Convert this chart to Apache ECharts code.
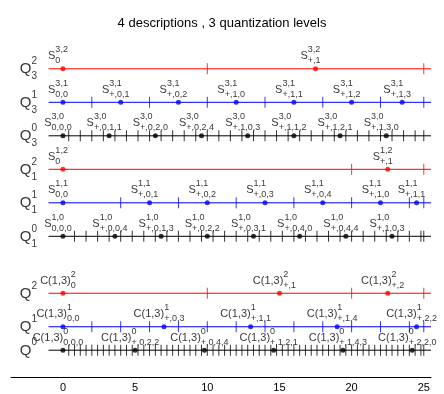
<!DOCTYPE html>
<html>
<head>
<meta charset="utf-8">
<script src="https://cdn.jsdelivr.net/npm/echarts@6/dist/echarts.min.js"></script>
<style>
  html, body { margin: 0; padding: 0; background: #fff; }
  #chart { width: 444px; height: 394px; }
</style>
</head>
<body>
<div id="chart"></div>
<script>
var titleText = '4 descriptions , 3 quantization levels'
var xTicks = [0, 5, 10, 15, 20, 25]
var lineStart = -1
var lineEnd = 25.5

// rows, top to bottom
var rowY = [9.2, 8.2, 7.2, 6.2, 5.2, 4.2, 2.5, 1.5, 0.8]
var rowQSup = ['2', '1', '0', '2', '1', '0', '2', '1', '0']
var rowQSub = ['3', '3', '3', '1', '1', '1', '', '', '']
var rowBase = ['S', 'S', 'S', 'S', 'S', 'S', 'C(1,3)', 'C(1,3)', 'C(1,3)']
var rowSup = ['3,2', '3,1', '3,0', '1,2', '1,1', '1,0', '2', '1', '0']

var q32Points = [0, 17.5]
var q32Ticks = [10, 25]
var q32Subs = ['0', '+,1']

var q31Points = [0, 4, 8, 12, 16, 20, 23.5]
var q31Ticks = [2, 6, 10, 14, 18, 22, 25]
var q31Subs = ['0,0', '+,0,1', '+,0,2', '+,1,0', '+,1,1', '+,1,2', '+,1,3']

var q30Points = [0, 3.2, 6.4, 9.6, 12.8, 16, 19.2, 22.4]
var q30Ticks = [0.4, 1.2, 2, 2.8, 3.6, 4.4, 5.2, 6, 6.8, 7.6, 8.4, 9.2, 10, 10.8, 11.6, 12.4,
  13.2, 14, 14.8, 15.6, 16.4, 17.2, 18, 18.8, 19.6, 20.4, 21.2, 22, 22.8, 23.6, 24.4, 25]
var q30Subs = ['0,0,0', '+,0,1,1', '+,0,2,0', '+,0,2,4', '+,1,0,3', '+,1,1,2', '+,1,2,1', '+,1,3,0']

var q12Points = [0, 22.5]
var q12Ticks = [20, 25]
var q12Subs = ['0', '+,1']

var q11Points = [0, 6, 10, 14, 18, 22, 24.5]
var q11Ticks = [4, 8, 12, 16, 20, 24, 25]
var q11Subs = ['0,0', '+,0,1', '+,0,2', '+,0,3', '+,0,4', '+,1,0', '+,1,1']

var q10Points = [0, 3.6, 6.8, 10, 13.2, 16.4, 19.6, 22.8]
var q10Ticks = [0.8, 1.6, 2.4, 3.2, 4, 4.8, 5.6, 6.4, 7.2, 8, 8.8, 9.6, 10.4, 11.2, 12, 12.8,
  13.6, 14.4, 15.2, 16, 16.8, 17.6, 18.4, 19.2, 20, 20.8, 21.6, 22.4, 23.2, 24, 24.8, 25]
var q10Subs = ['0,0,0', '+,0,0,4', '+,0,1,3', '+,0,2,2', '+,0,3,1', '+,0,4,0', '+,0,4,4', '+,1,0,3']

var q2Points = [0, 15, 22.5]
var q2Ticks = [10, 20, 25]
var q2Subs = ['0', '+,1', '+,2']

var q1Points = [0, 7, 13, 19, 24.5]
var q1Ticks = [2, 4, 6, 8, 10, 12, 14, 16, 18, 20, 22, 24, 25]
var q1Subs = ['0,0', '+,0,3', '+,1,1', '+,1,4', '+,2,2']

var q0Points = [0, 5, 9.8, 14.6, 19.4, 24.2]
var q0Ticks = [0.4, 0.8, 1.2, 1.6, 2, 2.4, 2.8, 3.2, 3.6, 4, 4.4, 4.8, 5.2, 5.6, 6, 6.4, 6.8,
  7.2, 7.6, 8, 8.4, 8.8, 9.2, 9.6, 10, 10.4, 10.8, 11.2, 11.6, 12, 12.4, 12.8, 13.2, 13.6,
  14, 14.4, 14.8, 15.2, 15.6, 16, 16.4, 16.8, 17.2, 17.6, 18, 18.4, 18.8, 19.2, 19.6, 20,
  20.4, 20.8, 21.2, 21.6, 22, 22.4, 22.8, 23.2, 23.6, 24, 24.4, 24.8, 25]
var q0Subs = ['0,0,0', '+,0,2,2', '+,0,4,4', '+,1,2,1', '+,1,4,3', '+,2,2,0']

var rowPoints = [q32Points, q31Points, q30Points, q12Points, q11Points, q10Points, q2Points, q1Points, q0Points]
var rowTicks = [q32Ticks, q31Ticks, q30Ticks, q12Ticks, q11Ticks, q10Ticks, q2Ticks, q1Ticks, q0Ticks]
var rowSubs = [q32Subs, q31Subs, q30Subs, q12Subs, q11Subs, q10Subs, q2Subs, q1Subs, q0Subs]

var FONT = '"Liberation Sans", Arial, Helvetica, sans-serif'
var rowColors = ['#ff0000', '#0000ff', '#000000']
var GHOST = 'rgba(0,0,0,0)'

// sup sits on a thin first line, base + sub on the second line;
// 'height' only moves the token centre (top aligned: centre = lineTop + height / 2)
var pointRich = {
  g: { fontSize: 11, fontFamily: FONT, color: GHOST, lineHeight: 1, align: 'left' },
  sup: { fontSize: 9, fontFamily: FONT, color: '#000', lineHeight: 1, align: 'left' },
  b: { fontSize: 11, fontFamily: FONT, color: '#000', lineHeight: 12, align: 'left' },
  sub: { fontSize: 9, fontFamily: FONT, color: '#000', lineHeight: 1, height: 21, verticalAlign: 'top', align: 'left' }
}
var nameRich = {
  g: { fontSize: 15, fontFamily: FONT, color: GHOST, lineHeight: 1, align: 'left' },
  sup: { fontSize: 10, fontFamily: FONT, color: '#000', lineHeight: 1, align: 'left' },
  b: { fontSize: 15, fontFamily: FONT, color: '#000', lineHeight: 15, align: 'left' },
  sub: { fontSize: 10, fontFamily: FONT, color: '#000', lineHeight: 1, height: 29, verticalAlign: 'top', align: 'left' }
}

var series = []
rowY.forEach(function (y, r) {
  var color = rowColors[r % 3]
  series.push({
    type: 'line',
    data: [[lineStart, y], [lineEnd, y]],
    showSymbol: false,
    silent: true,
    lineStyle: { color: color, width: 1 },
    z: 1
  })
  series.push({
    type: 'scatter',
    data: rowTicks[r].map(function (x) { return [x, y] }),
    symbol: 'rect',
    symbolSize: [1, 11],
    itemStyle: { color: color },
    silent: true,
    z: 2
  })
  series.push({
    type: 'scatter',
    data: rowPoints[r].map(function (x, i) { return { value: [x, y], sub: rowSubs[r][i] } }),
    symbolSize: 5,
    itemStyle: { color: color },
    silent: true,
    z: 3,
    label: {
      show: true,
      position: 'top',
      distance: 4,
      offset: [-5, 0],
      formatter: function (p) {
        return '{g|' + rowBase[r] + '}{sup|' + rowSup[r] + '}\n{b|' + rowBase[r] + '}{sub|' + p.data.sub + '}'
      },
      rich: pointRich
    }
  })
})

// row names (Q with super/subscripts) to the left of each line
series.push({
  type: 'scatter',
  data: rowY.map(function (y, r) { return { value: [lineStart, y], r: r } }),
  symbolSize: 1,
  itemStyle: { color: GHOST },
  silent: true,
  label: {
    show: true,
    position: 'left',
    distance: 11,
    formatter: function (p) {
      var r = p.data.r
      var s = '{g|Q}{sup|' + rowQSup[r] + '}\n{b|Q}'
      if (rowQSub[r]) s += '{sub|' + rowQSub[r] + '}'
      return s
    },
    rich: nameRich
  }
})

var chart = echarts.init(document.getElementById('chart'))
chart.setOption({
  animation: false,
  backgroundColor: '#fff',
  title: {
    text: titleText,
    left: 'center',
    top: 12,
    textStyle: { fontSize: 13, fontWeight: 'normal', fontFamily: FONT, color: '#000' }
  },
  grid: { left: 11, right: 13, top: 42, bottom: 17 },
  xAxis: {
    type: 'value',
    min: -3.6,
    max: 25.5,
    axisLine: { show: true, lineStyle: { color: '#000', width: 1 } },
    axisTick: { show: false },
    splitLine: { show: false },
    axisLabel: {
      customValues: xTicks,
      color: '#000',
      fontSize: 11,
      fontFamily: FONT,
      margin: 5
    }
  },
  yAxis: {
    type: 'value',
    min: 0,
    max: 10,
    show: false
  },
  series: series
})
</script>
</body>
</html>
